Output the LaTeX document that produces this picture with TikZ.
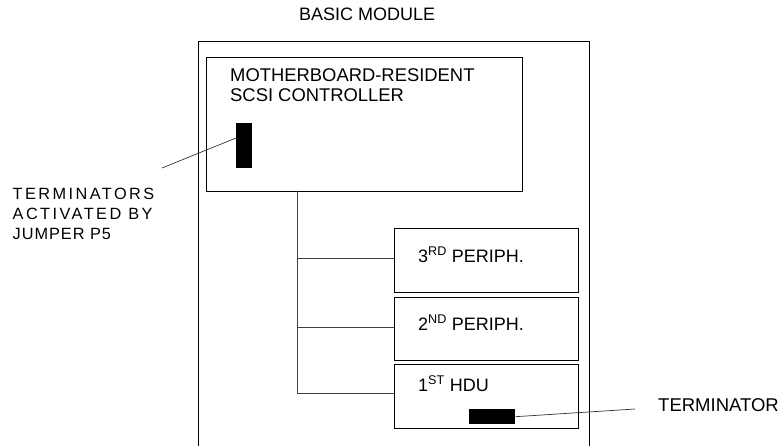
\documentclass[tikz,border=0pt]{standalone}
\usepackage{fontspec}
\setmainfont{Liberation Sans}
\begin{document}
\begin{tikzpicture}[x=1pt,y=-1pt,
  box/.style={draw, line width=0.9pt, inner sep=0pt, anchor=north west},
  term/.style={fill=black, draw=none, inner sep=0pt, anchor=north west},
  lbl/.style={anchor=base west, inner sep=0pt},
  big/.style={font=\fontsize{18}{20}\selectfont},
  wire/.style={line width=0.8pt, draw=black!75},
  lead/.style={line width=0.7pt, draw=black!80}]
\useasboundingbox (0,0) rectangle (781,446);
% title
\node[lbl, big] (title) at (299,21) {BASIC MODULE};
% outer module (open at bottom)
\draw[line width=0.9pt] (198,446) -- (198,41) -- (589,41) -- (589,446);
% controller
\node[box, minimum width=316pt, minimum height=134pt] (ctrl) at (206,57) {};
\node[lbl, font=\fontsize{18.4}{20}\selectfont, align=left] (ctrltxt) at (230,101.5)
  {MOTHERBOARD-RESIDENT\\SCSI CONTROLLER};
\node[term, minimum width=16pt, minimum height=45pt] (t5) at (236,123) {};
% peripherals
\node[box, minimum width=184pt, minimum height=64pt] (p3) at (394,228) {};
\node[box, minimum width=184pt, minimum height=63pt] (p2) at (394,297) {};
\node[box, minimum width=184pt, minimum height=64pt] (p1) at (394,364) {};
\node[lbl, big] (p3t) at (418,262) {3\textsuperscript{RD} PERIPH.};
\node[lbl, big] (p2t) at (418,330) {2\textsuperscript{ND} PERIPH.};
\node[lbl, big] (p1t) at (418,391) {1\textsuperscript{ST} HDU};
\node[term, minimum width=46pt, minimum height=15pt] (t1) at (469,409) {};
% bus
\coordinate (bt) at (297,191);
\coordinate (b3) at (394,258);
\coordinate (b2) at (394,327);
\coordinate (b1) at (394,393);
\draw[wire] (bt) |- (b1);
\draw[wire] (b3 -| bt) -- (b3);
\draw[wire] (b2 -| bt) -- (b2);
% labels with leaders
\node[lbl, font=\fontsize{16.3}{20}\selectfont, align=left] (tl) at (12.5,240)
  {\addfontfeature{LetterSpace=15}TERMINATORS\\\addfontfeature{LetterSpace=15}ACTIVATED BY\\\addfontfeature{LetterSpace=6}JUMPER P5};
\coordinate (tlend) at (162,168);
\draw[lead] (tlend) -- (t5.west |- 0,138);
\node[lbl, font=\fontsize{18.5}{20}\selectfont] (trm) at (658,411) {TERMINATOR};
\coordinate (trmend) at (635,409);
\draw[lead] (t1.east) -- (trmend);
\end{tikzpicture}
\end{document}
